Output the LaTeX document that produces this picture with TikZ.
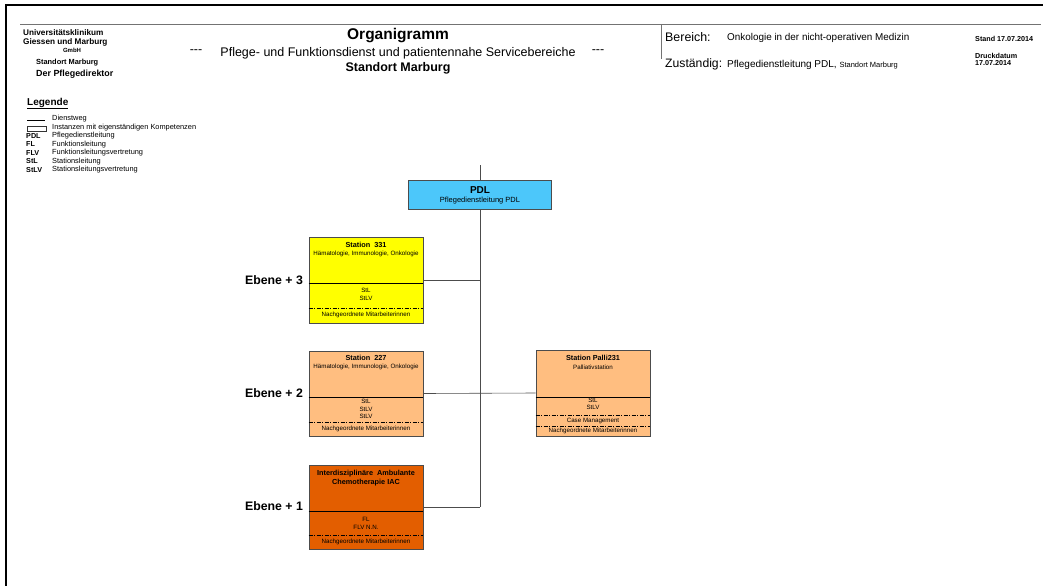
\documentclass[tikz,border=0pt]{standalone}
\usepackage{fontspec}
\setmainfont{Liberation Sans}
\usetikzlibrary{positioning}
\definecolor{pdlblue}{RGB}{76,199,250}
\definecolor{stgelb}{RGB}{255,255,0}
\definecolor{sthell}{RGB}{255,190,128}
\definecolor{stdunkel}{RGB}{227,94,0}
\newcommand{\fsz}[1]{\fontsize{#1}{#1}\selectfont}

\begin{document}
\begin{tikzpicture}[x=1pt,y=-1pt,
  box/.style={draw=black!70, line width=0.7pt, inner sep=0pt, minimum width=114pt},
  txt/.style={inner sep=0pt},
  tl/.style={txt, font=\fsz{7.3}\bfseries},
  sm/.style={txt, font=\fsz{6.2}},
  kurz/.style={txt, anchor=west, font=\fsz{7.2}\bfseries},
  lang/.style={txt, anchor=west, font=\fsz{7.4}},
  ebene/.style={txt, font=\fsz{12.3}\bfseries},
  weg/.style={black!70, line width=0.6pt},
  teil/.style={black, line width=0.6pt},
  strich/.style={black, line width=0.6pt, dash pattern=on 4pt off 1.5pt on 1pt off 1.5pt}]
\useasboundingbox (0,0) rectangle (1043,586);

% Rahmen und Kopf
\draw[line width=2pt] (1043,5) -- (6,5) -- (6,586);
\draw[black!55, line width=0.8pt] (20,24) -- (1041,24);
\draw[black!55, line width=0.8pt] (661,24) -- (661,59);

\node[txt, anchor=base west, font=\fsz{8.2}\bfseries] (uni) at (23,36) {Universitätsklinikum};
\node[txt, anchor=base west, font=\fsz{8.2}\bfseries] (gie) at (23,44.5) {Giessen und Marburg};
\node[txt, font=\fsz{6}\bfseries] (gmbh) at (72,50.5) {GmbH};
\node[txt, anchor=west, font=\fsz{7.4}\bfseries] (sto) at (36,63) {Standort Marburg};
\node[txt, anchor=west, font=\fsz{8.9}\bfseries] (pfd) at (36,74.5) {Der Pflegedirektor};

\node[txt, font=\fsz{15.5}\bfseries] (titel) at (398,36) {Organigramm};
\node[txt, font=\fsz{12.5}] (bereiche) at (398,53) {Pflege- und Funktionsdienst und patientennahe Servicebereiche};
\node[txt, font=\fsz{12.5}] (strl) at (196,52) {-{}-{}-};
\node[txt, font=\fsz{12.5}] (strr) at (598,52) {-{}-{}-};
\node[txt, font=\fsz{12.5}\bfseries] (ort) at (398,68) {Standort Marburg};

\node[txt, anchor=west, font=\fsz{12.4}] (ber) at (665,37) {Bereich:};
\node[txt, anchor=west, font=\fsz{9.9}] (onk) at (727,38) {Onkologie in der nicht-operativen Medizin};
\node[txt, anchor=west, font=\fsz{12.2}] (zus) at (665,64.5) {Zuständig:};
\node[txt, anchor=west, font=\fsz{10}] (zpdl) at (727,65) {Pflegedienstleitung PDL, {\fsz{7.5}Standort Marburg}};
\node[txt, anchor=west, font=\fsz{7.2}\bfseries] (stand) at (975,38.5) {Stand 17.07.2014};
\node[txt, anchor=west, font=\fsz{7.2}\bfseries] (druck) at (975,56) {Druckdatum};
\node[txt, anchor=west, font=\fsz{7.2}\bfseries] (datum) at (975,63.5) {17.07.2014};

% Legende
\node[txt, anchor=west, font=\fsz{10}\bfseries] (leg) at (27,103.5) {\underline{Legende}};
\draw[black, line width=0.6pt] (27,120) -- (45,120);
\draw[black!80, line width=0.6pt] (27,126) rectangle (46,131);
\node[lang] (lweg) at (52,119) {Dienstweg};
\node[lang] (linst) at (52,127.5) {Instanzen mit eigenständigen Kompetenzen};
\node[kurz] (kpdl) at (26,136) {PDL};
\node[lang] (lpdl) at (52,136) {Pflegedienstleitung};
\node[kurz] (kfl) at (26,144.5) {FL};
\node[lang] (lfl) at (52,144.5) {Funktionsleitung};
\node[kurz] (kflv) at (26,153) {FLV};
\node[lang] (lflv) at (52,153) {Funktionsleitungsvertretung};
\node[kurz] (kstl) at (26,161.5) {StL};
\node[lang] (lstl) at (52,161.5) {Stationsleitung};
\node[kurz] (kstlv) at (26,170) {StLV};
\node[lang] (lstlv) at (52,170) {Stationsleitungsvertretung};

% Kaesten
\node[box, fill=pdlblue, minimum width=143pt, minimum height=29pt] (pdl) at (480,194.5) {};
\node[box, fill=stgelb, minimum height=86pt] (st331) at (366,280) {};
\node[box, fill=sthell, minimum height=85pt] (st227) at (366,393.5) {};
\node[box, fill=sthell, minimum height=86pt] (palli) at (593,393) {};
\node[box, fill=stdunkel, minimum height=84pt] (iac) at (366,507) {};

\draw[teil] (st331.west |- 0,283) -- (st331.east |- 0,283);
\draw[strich] (st331.west |- 0,308) -- (st331.east |- 0,308);
\draw[teil] (st227.west |- 0,397) -- (st227.east |- 0,397);
\draw[strich] (st227.west |- 0,422) -- (st227.east |- 0,422);
\draw[teil] (palli.west |- 0,397) -- (palli.east |- 0,397);
\draw[strich] (palli.west |- 0,415) -- (palli.east |- 0,415);
\draw[strich] (palli.west |- 0,426) -- (palli.east |- 0,426);
\draw[teil] (iac.west |- 0,511) -- (iac.east |- 0,511);
\draw[strich] (iac.west |- 0,535) -- (iac.east |- 0,535);

% Dienstweg
\coordinate (stamm) at (480,165);
\draw[weg] (stamm) -- (pdl.north);
\draw[weg] (pdl.south) -- (pdl.south |- iac.east);
\draw[weg] (st331.east) -- (st331.east -| pdl.south);
\draw[weg] (st227.east) -- (palli.west);
\draw[weg] (iac.east) -- (iac.east -| pdl.south);

% Texte
\node[txt, font=\fsz{10}\bfseries] (pdlk) at (480,190) {PDL};
\node[txt, font=\fsz{7.5}] (pdll) at (480,201) {Pflegedienstleitung PDL};

\node[tl] (t331) at (366,245) {Station\ \ 331};
\node[sm] (u331) at (366,254) {Hämatologie, Immunologie, Onkologie};
\node[sm] (a331) at (366,290.5) {StL};
\node[sm] (b331) at (366,298) {StLV};
\node[sm] (n331) at (366,315) {Nachgeordnete Mitarbeiterinnen};

\node[tl] (t227) at (366,358) {Station\ \ 227};
\node[sm] (u227) at (366,367) {Hämatologie, Immunologie, Onkologie};
\node[sm] (a227) at (366,401.5) {StL};
\node[sm] (b227) at (366,409) {StLV};
\node[sm] (c227) at (366,416.5) {StLV};
\node[sm] (n227) at (366,429) {Nachgeordnete Mitarbeiterinnen};

\node[tl] (tpal) at (593,358) {Station Palli231};
\node[sm] (upal) at (593,367) {Palliativstation};
\node[sm] (apal) at (593,400) {StL};
\node[sm] (bpal) at (593,407) {StLV};
\node[sm] (cpal) at (593,420.5) {Case Management};
\node[sm] (npal) at (593,431) {Nachgeordnete Mitarbeiterinnen};

\node[tl] (tiac) at (366,474) {Interdisziplinäre\ \ Ambulante};
\node[tl] (tiac2) at (366,482.5) {Chemotherapie IAC};
\node[sm] (aiac) at (366,519.5) {FL};
\node[sm] (biac) at (366,527) {FLV N.N.};
\node[sm] (niac) at (366,542) {Nachgeordnete Mitarbeiterinnen};

\node[ebene] (eb3) at (274,280) {Ebene + 3};
\node[ebene] (eb2) at (274,393) {Ebene + 2};
\node[ebene] (eb1) at (274,506) {Ebene + 1};
\end{tikzpicture}
\end{document}
